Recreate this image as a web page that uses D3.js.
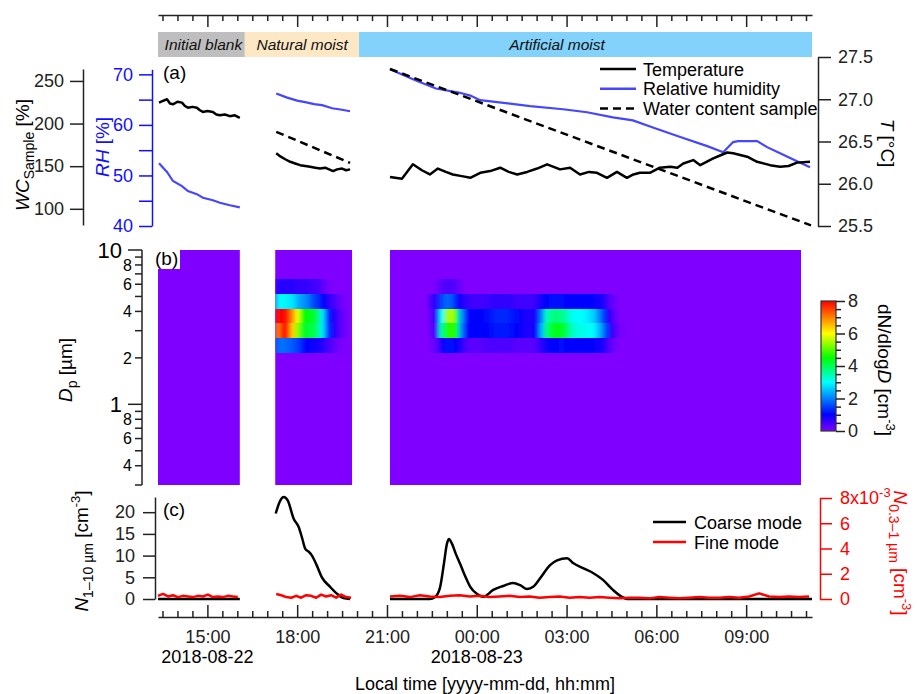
<!DOCTYPE html>
<html>
<head>
<meta charset="utf-8">
<script src="https://cdn.jsdelivr.net/npm/d3@7"></script>
<style>
  body { margin: 0; background: #fff; }
  svg { font-family: "Liberation Sans", Arial, sans-serif; }
</style>
</head>
<body>
<svg id="chart" width="917" height="694"></svg>
<script>
// ---- data: times are "dd HH:MM" in August 2018 (local time) ----
const timeDomain = ["22 13:21", "23 11:12"];

const phaseNames = ["Initial blank", "Natural moist", "Artificial moist"];
const phaseEdges = ["22 13:21", "22 16:15", "22 20:04", "23 11:12"];
const phaseLabelAt = ["22 14:52", "22 18:10", "23 02:41"];

// panel (a): temperature [°C]
const tempSeg1 = [["22 13:23",26.96],["22 13:31",26.98],["22 13:39",27.00],["22 13:45",26.95],["22 13:51",26.94],
  ["22 14:00",26.97],["22 14:09",26.96],["22 14:15",26.92],["22 14:21",26.90],["22 14:30",26.91],["22 14:39",26.90],
  ["22 14:45",26.87],["22 14:51",26.85],["22 15:00",26.86],["22 15:11",26.85],["22 15:18",26.82],["22 15:25",26.81],
  ["22 15:35",26.82],["22 15:45",26.80],["22 15:55",26.81],["22 16:05",26.78]];
const tempSeg2 = [["22 17:18",26.36],["22 17:27",26.32],["22 17:36",26.29],["22 17:46",26.26],["22 17:56",26.24],
  ["22 18:06",26.22],["22 18:16",26.21],["22 18:26",26.20],["22 18:36",26.19],["22 18:46",26.18],["22 18:56",26.19],
  ["22 19:04",26.17],["22 19:12",26.15],["22 19:20",26.17],["22 19:30",26.18],["22 19:38",26.16],["22 19:46",26.17]];
const tempSeg3 = [["22 21:06",26.08],["22 21:30",26.06],["22 21:52",26.23],["22 22:10",26.16],["22 22:26",26.11],
  ["22 22:42",26.18],["22 22:58",26.14],["22 23:12",26.11],["22 23:30",26.09],["22 23:47",26.07],["23 00:07",26.13],
  ["23 00:27",26.15],["23 00:47",26.19],["23 01:04",26.14],["23 01:21",26.11],["23 01:41",26.14],["23 02:01",26.18],
  ["23 02:21",26.23],["23 02:47",26.17],["23 03:07",26.19],["23 03:27",26.11],["23 03:45",26.14],["23 04:01",26.13],
  ["23 04:21",26.07],["23 04:41",26.14],["23 05:01",26.07],["23 05:14",26.11],["23 05:27",26.13],["23 05:47",26.13],
  ["23 06:07",26.19],["23 06:28",26.20],["23 06:42",26.19],["23 06:54",26.24],["23 07:14",26.28],["23 07:28",26.22],
  ["23 07:54",26.30],["23 08:10",26.34],["23 08:22",26.37],["23 08:34",26.36],["23 09:02",26.32],["23 09:22",26.26],
  ["23 09:48",26.22],["23 10:08",26.20],["23 10:25",26.21],["23 10:42",26.25],["23 11:08",26.26]];

// panel (a): relative humidity [%]
const rhSeg1 = [["22 13:23",52.4],["22 13:39",50.7],["22 13:51",48.9],["22 14:09",47.9],["22 14:21",46.9],
  ["22 14:39",46.3],["22 14:51",45.6],["22 15:11",45.1],["22 15:25",44.6],["22 15:45",44.1],["22 16:05",43.7]];
const rhSeg2 = [["22 17:18",66.2],["22 17:40",65.4],["22 18:00",64.8],["22 18:16",64.5],["22 18:34",64.1],
  ["22 18:50",63.9],["22 19:10",63.3],["22 19:30",63.0],["22 19:46",62.7]];
const rhSeg3 = [["22 21:06",71.0],["22 21:58",68.8],["22 22:38",67.2],["22 23:24",66.4],["22 23:47",65.8],
  ["23 00:07",64.9],["23 00:41",64.5],["23 01:47",63.7],["23 02:53",63.1],["23 03:41",62.5],["23 04:33",61.5],
  ["23 05:13",60.9],["23 05:53",59.5],["23 06:48",57.6],["23 07:42",55.8],["23 08:14",54.6],["23 08:34",56.6],
  ["23 08:44",56.8],["23 09:22",56.8],["23 09:42",55.6],["23 10:08",54.4],["23 10:42",52.8],["23 11:08",51.6]];

// panel (a): water content of the sample [%]
const wcSeg2 = [["22 17:18",190.3],["22 19:46",153.9]];
const wcSeg3 = [["22 21:06",264.0],["23 11:10",80.5]];

// panel (b): size bin edges [µm] and dN/dlogD [cm^-3] (10-min columns, bins not listed are ~0)
const sizeEdges = [0.30,0.37,0.47,0.58,0.72,0.90,1.12,1.39,1.73,2.16,2.69,3.35,4.17,5.19,6.46,8.04,10.0];
const psdBlocks = [["22 13:21","22 16:05"],["22 17:16","22 19:50"],["22 21:06","23 10:50"]];
const psdStep = 10;
const natStart = "22 17:16";
const natBin13 = [0.7,0.7,0.7,0.7,0.6,0.6,0.6,0.5,0.5,0.3,0.1];
const natBin12 = [2.9,3.0,2.9,2.8,2.4,2.2,2.0,1.6,1.4,1.0,0.8,0.5,0.3,0.1];
const natBin11 = [7.9,8.0,7.8,6.9,5.9,4.6,4.4,4.3,4.0,2.8,1.4,0.9,0.5,0.2];
const natBin10 = [7.0,7.8,7.8,6.4,5.3,4.3,4.2,4.1,3.8,2.8,1.5,0.9,0.5,0.2];
const natBin9  = [1.8,1.9,1.8,1.7,1.5,1.2,1.0,0.9,0.9,0.7,0.5,0.3,0.15,0.05];
const artStart = "22 22:24";
const artBin13 = [0.0,0.1,0.3,0.4,0.4,0.3,0.1];
const artBin12 = [0.5,0.8,1.5,1.8,1.7,1.1,0.8,0.6,0.5,0.5, 0.5,0.5,0.6,0.6,0.6,0.6,0.6,0.5,0.5,0.5,
                  0.5,0.6,0.9,1.0,1.1,1.1,1.1,1.0,1.0,1.0, 1.0,1.0,1.0,0.9,0.9,0.6,0.3,0.1,0.0];
const artBin11 = [0.3,0.9,3.0,5.3,5.6,4.3,2.2,1.2,1.0,1.0, 1.0,1.1,1.2,1.3,1.3,1.3,1.2,1.1,0.9,0.8,
                  0.8,0.9,2.0,3.4,3.7,3.8,3.7,3.5,3.1,3.0, 3.0,2.9,2.7,2.4,1.9,1.2,0.6,0.2,0.0];
const artBin10 = [0.2,0.7,3.6,4.6,4.8,4.4,2.0,1.1,1.0,1.0, 1.0,1.0,1.1,1.2,1.2,1.2,1.1,1.0,0.9,0.8,
                  0.8,1.0,2.4,3.8,4.2,4.4,4.3,4.0,3.4,3.2, 3.1,3.1,3.0,2.8,2.3,1.6,0.9,0.3,0.1];
const artBin9  = [0.1,0.3,0.9,1.1,1.1,1.0,0.7,0.4,0.3,0.3, 0.3,0.4,0.4,0.4,0.4,0.4,0.4,0.3,0.3,0.3,
                  0.3,0.4,0.7,0.9,1.0,1.0,1.1,1.0,1.0,1.0, 1.0,1.0,1.0,0.9,0.9,0.6,0.3,0.1,0.0];

// panel (c): coarse mode N(1-10 µm) [cm^-3]
const coarseSeg1 = [["22 13:21",0],["22 16:05",0]];
const coarseSeg2 = [["22 17:17",19.7],["22 17:25",22.4],["22 17:33",23.5],["22 17:41",22.7],["22 17:53",18.5],
  ["22 18:03",16.6],["22 18:10",14.0],["22 18:16",11.6],["22 18:23",10.9],["22 18:29",10.1],["22 18:39",7.8],
  ["22 18:49",5.1],["22 19:06",2.8],["22 19:19",1.3],["22 19:33",0.2],["22 19:46",0]];
const coarseSeg3 = [["22 21:06",0],["22 22:26",0],["22 22:36",0.4],["22 22:46",2.5],["22 22:54",8.0],["22 23:00",12.6],
  ["22 23:04",13.8],["22 23:10",12.8],["22 23:18",10.4],["22 23:27",8.0],["22 23:37",5.2],["22 23:47",2.8],
  ["23 00:00",1.2],["23 00:13",0.5],["23 00:33",2.1],["23 00:53",3.0],["23 01:13",3.7],["23 01:27",3.2],
  ["23 01:41",2.3],["23 01:53",2.8],["23 02:07",4.8],["23 02:27",7.8],["23 02:41",8.9],["23 03:01",9.4],
  ["23 03:13",8.3],["23 03:33",7.1],["23 03:53",6.0],["23 04:13",4.4],["23 04:33",2.1],["23 04:51",0.5],
  ["23 05:01",0],["23 11:12",0]];

// panel (c): fine mode N(0.3-1 µm) [10^-3 cm^-3], regular steps from a start time
const fineSeg1 = { start: "22 13:21", step: 10,
  values: [0.25,0.40,0.20,0.30,0.15,0.25,0.20,0.15,0.25,0.20,0.35,0.15,0.20,0.15,0.25,0.20,0.15] };
const fineSeg2 = { start: "22 17:18", step: 10,
  values: [0.40,0.30,0.15,0.10,0.25,0.10,0.30,0.25,0.10,0.35,0.20,0.30,0.10,0.35,0.15,0.10] };
const fineSeg3 = { start: "22 21:06", step: 20,
  values: [0.20,0.25,0.15,0.30,0.20,0.15,0.25,0.30,0.20,0.25, 0.15,0.20,0.25,0.15,0.20,0.10,0.15,0.20,0.10,0.15,
           0.10,0.15,0.10,0.05,0.10,0.10,0.05,0.15,0.10,0.05, 0.10,0.15,0.10,0.10,0.15,0.10,0.20,0.45,0.20,0.15,
           0.20,0.15,0.20] };

// ---- styles ----
const phaseColors = ["#bebebe", "#fde8c6", "#82d2fb"];
const rhColor = "#4646ff";
const colorStops = [0, 1, 3, 4.5, 6, 7, 8];
const colorRamp = ["#8000ff", "#0000ff", "#00ffff", "#00ff00", "#ffff00", "#ff8000", "#ff0000"];

const parse = d3.timeParse("%Y-%m-%d %H:%M");
const t = s => parse("2018-08-" + s);
const svg = d3.select("#chart");
const defs = svg.append("defs");

// ---- scales ----
const x = d3.scaleTime().domain(timeDomain.map(t)).range([158, 812]);
const yT = d3.scaleLinear().domain([25.5, 27.5]).range([226, 57]);
const yRH = d3.scaleLinear().domain([40, 71]).range([226, 69.3]);
const yWC = d3.scaleLinear().domain([81, 264]).range([225, 69]);
const yD = d3.scaleLog().domain([0.3, 10]).range([485, 250]);
const yN = d3.scaleLinear().domain([0, 23.5]).range([599, 497]);
const yF = d3.scaleLinear().domain([0, 8]).range([599, 498]);
const psdColor = d3.scaleLinear().domain(colorStops).range(colorRamp).clamp(true);
const yCB = d3.scaleLinear().domain([0, 8]).range([431, 301]);

const isMajor = d => d.getHours() % 3 === 0 && d.getMinutes() === 0;

function styleAxis(g, color, size) {
  g.attr("font-family", null).attr("font-size", size || 18);
  g.select(".domain").attr("stroke", color).attr("stroke-width", 1.5);
  g.selectAll(".tick line").attr("stroke", color).attr("stroke-width", 1.5);
  g.selectAll(".tick text").attr("fill", color);
}

// ---- top time axis and phase band ----
const topAx = svg.append("g").attr("transform", "translate(0,15)")
  .call(d3.axisTop(x).ticks(d3.timeMinute.every(30)).tickSizeInner(-6).tickSizeOuter(0).tickFormat(""));
topAx.selectAll(".tick line").attr("y2", d => isMajor(d) ? 12 : 6);
styleAxis(topAx, "#222");

phaseNames.forEach((name, i) => {
  const x0 = x(t(phaseEdges[i])), x1 = x(t(phaseEdges[i + 1]));
  svg.append("rect").attr("x", x0).attr("y", 32).attr("width", x1 - x0).attr("height", 25)
    .attr("fill", phaseColors[i]);
  svg.append("text").attr("x", x(t(phaseLabelAt[i]))).attr("y", 50).attr("text-anchor", "middle")
    .attr("font-style", "italic").attr("font-size", 15.5).attr("fill", "#111").text(name);
});

// ---- panel (a) ----
const wcAx = svg.append("g").attr("transform", "translate(83,0)")
  .call(d3.axisLeft(yWC).tickValues([100, 150, 200, 250]).tickSize(13).tickPadding(6).tickSizeOuter(0));
styleAxis(wcAx, "#222");

const rhAx = svg.append("g").attr("transform", "translate(152,0)")
  .call(d3.axisLeft(yRH).tickValues([40, 45, 50, 55, 60, 65, 70]).tickSize(13).tickPadding(6).tickSizeOuter(0)
    .tickFormat(d => d % 10 === 0 ? d : ""));
styleAxis(rhAx, "#1010ff");

const tAx = svg.append("g").attr("transform", "translate(818,0)")
  .call(d3.axisRight(yT).tickValues([25.5, 26, 26.5, 27, 27.5]).tickSize(13).tickPadding(7).tickSizeOuter(0)
    .tickFormat(d3.format(".1f")));
styleAxis(tAx, "#222");

const lineOf = yScale => d3.line().x(d => x(t(d[0]))).y(d => yScale(d[1]));

[rhSeg1, rhSeg2, rhSeg3].forEach(seg => svg.append("path").datum(seg)
  .attr("d", lineOf(yRH)).attr("fill", "none").attr("stroke", rhColor).attr("stroke-width", 2.2));
[wcSeg2, wcSeg3].forEach(seg => svg.append("path").datum(seg)
  .attr("d", lineOf(yWC)).attr("fill", "none").attr("stroke", "#000").attr("stroke-width", 2.5)
  .attr("stroke-dasharray", "8,5"));
[tempSeg1, tempSeg2, tempSeg3].forEach(seg => svg.append("path").datum(seg)
  .attr("d", lineOf(yT)).attr("fill", "none").attr("stroke", "#000").attr("stroke-width", 2.5)
  .attr("stroke-linejoin", "round"));

svg.append("text").attr("x", 163).attr("y", 79).attr("font-size", 19).text("(a)");

const legA = [["Temperature", "#000", null], ["Relative humidity", rhColor, null], ["Water content sample", "#000", "8,5"]];
legA.forEach((d, i) => {
  const ly = 69 + i * 19.7;
  svg.append("line").attr("x1", 600).attr("x2", 636).attr("y1", ly).attr("y2", ly)
    .attr("stroke", d[1]).attr("stroke-width", 2.5).attr("stroke-dasharray", d[2]);
  svg.append("text").attr("x", 643).attr("y", ly + 6.5).attr("font-size", 18).text(d[0]);
});

// axis titles (a)
const wcTitle = svg.append("text").attr("transform", "translate(29,155) rotate(-90)")
  .attr("text-anchor", "middle").attr("font-size", 19);
wcTitle.append("tspan").attr("font-style", "italic").text("WC");
wcTitle.append("tspan").attr("font-size", 14).attr("dy", 5).text("Sample");
wcTitle.append("tspan").attr("dy", -5).text(" [%]");

const rhTitle = svg.append("text").attr("transform", "translate(109,147) rotate(-90)")
  .attr("text-anchor", "middle").attr("font-size", 19).attr("fill", "#1010ff");
rhTitle.append("tspan").attr("font-style", "italic").text("RH");
rhTitle.append("tspan").text(" [%]");

const tTitle = svg.append("text").attr("transform", "translate(881,143) rotate(90)")
  .attr("text-anchor", "middle").attr("font-size", 19);
tTitle.append("tspan").attr("font-style", "italic").text("T");
tTitle.append("tspan").text(" [°C]");

// ---- panel (b) heatmap ----
psdBlocks.forEach(b => svg.append("rect")
  .attr("x", x(t(b[0]))).attr("width", x(t(b[1])) - x(t(b[0])))
  .attr("y", yD(10)).attr("height", yD(0.3) - yD(10)).attr("fill", psdColor(0)));

// clip to the measurement blocks and smooth along time only
const clip = defs.append("clipPath").attr("id", "psdClip");
psdBlocks.forEach(b => clip.append("rect")
  .attr("x", x(t(b[0]))).attr("width", x(t(b[1])) - x(t(b[0])))
  .attr("y", yD(10)).attr("height", yD(0.3) - yD(10)));
defs.append("filter").attr("id", "tBlur").attr("x", "-10%").attr("width", "120%")
  .append("feGaussianBlur").attr("stdDeviation", "2.2 0");

const hotWindows = [
  { start: natStart, end: psdBlocks[1][1],
    rows: [[9, natBin9], [10, natBin10], [11, natBin11], [12, natBin12], [13, natBin13]] },
  { start: artStart, end: psdBlocks[2][1],
    rows: [[9, artBin9], [10, artBin10], [11, artBin11], [12, artBin12], [13, artBin13]] }
];
const cells = [];
hotWindows.forEach(w => {
  const t0 = t(w.start), tEnd = t(w.end);
  w.rows.forEach(([bin, vals]) => vals.forEach((v, i) => {
    const a = d3.timeMinute.offset(t0, psdStep * i);
    let b = d3.timeMinute.offset(t0, psdStep * (i + 1));
    if (b > tEnd) b = tEnd;
    cells.push({ a, b, lo: sizeEdges[bin], hi: sizeEdges[bin + 1], v });
  }));
});
svg.append("g").attr("clip-path", "url(#psdClip)")
  .append("g").attr("filter", "url(#tBlur)")
  .selectAll("rect").data(cells).join("rect")
  .attr("x", d => x(d.a)).attr("width", d => x(d.b) - x(d.a) + 0.5)
  .attr("y", d => yD(d.hi)).attr("height", d => yD(d.lo) - yD(d.hi))
  .attr("fill", d => psdColor(d.v)).attr("shape-rendering", "crispEdges");

// log axis
const logTicks = [0.3, 0.4, 0.5, 0.6, 0.7, 0.8, 0.9, 1, 2, 3, 4, 5, 6, 7, 8, 9, 10];
const bigLabels = [1, 10];
const smallLabels = [0.4, 0.6, 0.8, 2, 4, 6, 8];
const dAx = svg.append("g");
dAx.append("line").attr("x1", 142).attr("x2", 142).attr("y1", yD(10)).attr("y2", yD(0.3))
  .attr("stroke", "#222").attr("stroke-width", 1.5);
dAx.selectAll("line.tk").data(logTicks).join("line").attr("class", "tk")
  .attr("x1", d => bigLabels.includes(d) ? 128 : 135).attr("x2", 142)
  .attr("y1", d => yD(d)).attr("y2", d => yD(d)).attr("stroke", "#222").attr("stroke-width", 1.5);
dAx.selectAll("text.big").data(bigLabels).join("text").attr("class", "big")
  .attr("x", 122).attr("y", d => yD(d)).attr("dy", "0.36em").attr("text-anchor", "end")
  .attr("font-size", 22).text(d => d);
dAx.selectAll("text.small").data(smallLabels).join("text").attr("class", "small")
  .attr("x", 132).attr("y", d => yD(d)).attr("dy", "0.36em").attr("text-anchor", "end")
  .attr("font-size", 16).text(d => d < 1 ? Math.round(d * 10) : d);

const dTitle = svg.append("text").attr("transform", "translate(72,370) rotate(-90)")
  .attr("text-anchor", "middle").attr("font-size", 19);
dTitle.append("tspan").attr("font-style", "italic").text("D");
dTitle.append("tspan").attr("font-size", 14).attr("dy", 5).text("p");
dTitle.append("tspan").attr("dy", -5).text(" [µm]");

svg.append("rect").attr("x", 158).attr("y", 250).attr("width", 22).attr("height", 19).attr("fill", "#fff");
svg.append("text").attr("x", 155).attr("y", 265).attr("font-size", 19).text("(b)");

// colorbar
const grad = defs.append("linearGradient").attr("id", "cbGrad")
  .attr("x1", 0).attr("x2", 0).attr("y1", 1).attr("y2", 0);
grad.selectAll("stop").data(colorStops).join("stop")
  .attr("offset", d => d / 8).attr("stop-color", d => psdColor(d));
svg.append("rect").attr("x", 821).attr("y", yCB(8)).attr("width", 15).attr("height", yCB(0) - yCB(8))
  .attr("fill", "url(#cbGrad)").attr("stroke", "#333").attr("stroke-width", 1.2);
const cbAx = svg.append("g").attr("transform", "translate(836,0)")
  .call(d3.axisRight(yCB).tickValues(d3.range(0, 8.01, 0.5)).tickSize(5).tickPadding(6).tickSizeOuter(0)
    .tickFormat(d => d % 2 === 0 ? d : ""));
cbAx.selectAll(".tick line").attr("x2", d => d % 2 === 0 ? 9 : 5);
cbAx.selectAll(".tick text").attr("x", 12);
styleAxis(cbAx, "#222");
cbAx.select(".domain").remove();

const cbTitle = svg.append("text").attr("transform", "translate(878,370) rotate(90)")
  .attr("text-anchor", "middle").attr("font-size", 19);
cbTitle.append("tspan").text("dN/dlog");
cbTitle.append("tspan").attr("font-style", "italic").text("D");
cbTitle.append("tspan").text(" [cm");
cbTitle.append("tspan").attr("font-size", 13).attr("dy", -8).text("-3");
cbTitle.append("tspan").attr("dy", 8).text("]");

// ---- panel (c) ----
const nAx = svg.append("g").attr("transform", "translate(155,0)")
  .call(d3.axisLeft(yN).tickValues([0, 5, 10, 15, 20]).tickSize(12).tickPadding(8).tickSizeOuter(0));
styleAxis(nAx, "#222");

const fAx = svg.append("g").attr("transform", "translate(820,0)")
  .call(d3.axisRight(yF).tickValues([0, 2, 4, 6, 8]).tickSize(12).tickPadding(8).tickSizeOuter(0)
    .tickFormat(d => d === 8 ? "8x10" : d));
styleAxis(fAx, "#ff0000");
fAx.selectAll(".tick text").filter(d => d === 8)
  .append("tspan").attr("font-size", 13).attr("dy", -7).text("-3");

[coarseSeg1, coarseSeg2, coarseSeg3].forEach(seg => svg.append("path").datum(seg)
  .attr("d", d3.line().x(d => x(t(d[0]))).y(d => yN(d[1])).curve(d3.curveMonotoneX))
  .attr("fill", "none").attr("stroke", "#000").attr("stroke-width", 2.5));
[fineSeg1, fineSeg2, fineSeg3].forEach(seg => svg.append("path").datum(seg.values)
  .attr("d", d3.line().x((d, i) => x(d3.timeMinute.offset(t(seg.start), seg.step * i))).y(d => yF(d)))
  .attr("fill", "none").attr("stroke", "#ff0000").attr("stroke-width", 2.5).attr("stroke-linejoin", "round"));

svg.append("text").attr("x", 163).attr("y", 516).attr("font-size", 19).text("(c)");

const legC = [["Coarse mode", "#000"], ["Fine mode", "#ff0000"]];
legC.forEach((d, i) => {
  const ly = 522 + i * 20;
  svg.append("line").attr("x1", 653).attr("x2", 686).attr("y1", ly).attr("y2", ly)
    .attr("stroke", d[1]).attr("stroke-width", 2.5);
  svg.append("text").attr("x", 694).attr("y", ly + 6.5).attr("font-size", 18).text(d[0]);
});

const nTitle = svg.append("text").attr("transform", "translate(88,551) rotate(-90)")
  .attr("text-anchor", "middle").attr("font-size", 19);
nTitle.append("tspan").attr("font-style", "italic").text("N");
nTitle.append("tspan").attr("font-size", 14).attr("dy", 5).text("1–10 µm");
nTitle.append("tspan").attr("dy", -5).text(" [cm");
nTitle.append("tspan").attr("font-size", 13).attr("dy", -8).text("-3");
nTitle.append("tspan").attr("dy", 8).text("]");

const fTitle = svg.append("text").attr("transform", "translate(894,553) rotate(90)")
  .attr("text-anchor", "middle").attr("font-size", 19).attr("fill", "#ff0000");
fTitle.append("tspan").attr("font-style", "italic").text("N");
fTitle.append("tspan").attr("font-size", 14).attr("dy", 5).text("0.3–1 µm");
fTitle.append("tspan").attr("dy", -5).text("  [cm");
fTitle.append("tspan").attr("font-size", 13).attr("dy", -8).text("-3");
fTitle.append("tspan").attr("dy", 8).text("]");

// bottom time axis
const botAx = svg.append("g").attr("transform", "translate(0,617)")
  .call(d3.axisBottom(x).ticks(d3.timeMinute.every(30)).tickSizeInner(-6).tickSizeOuter(0).tickPadding(13)
    .tickFormat(d => isMajor(d) ? d3.timeFormat("%H:%M")(d) : ""));
botAx.selectAll(".tick line").attr("y2", d => isMajor(d) ? -12 : -6);
styleAxis(botAx, "#222");

const dateLabels = [["22 15:00", "2018-08-22"], ["23 00:00", "2018-08-23"]];
dateLabels.forEach(d => svg.append("text").attr("x", x(t(d[0]))).attr("y", 663)
  .attr("text-anchor", "middle").attr("font-size", 18).text(d[1]));

svg.append("text").attr("x", 485).attr("y", 690).attr("text-anchor", "middle").attr("font-size", 18)
  .text("Local time [yyyy-mm-dd, hh:mm]");
</script>
</body>
</html>
